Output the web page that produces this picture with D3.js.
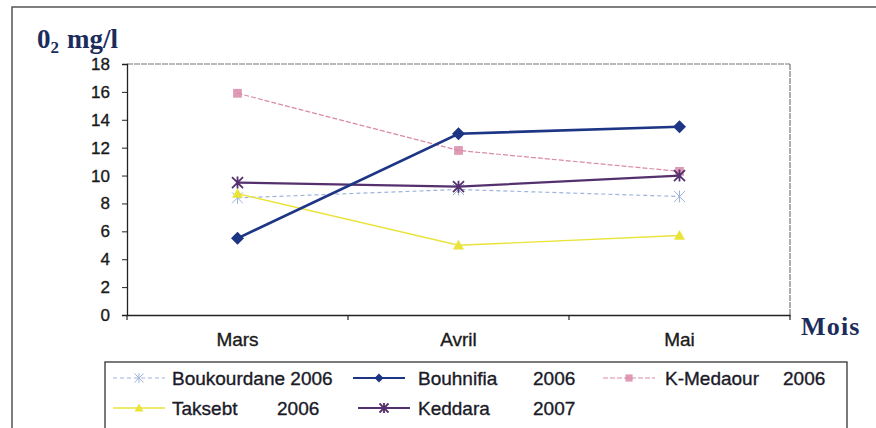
<!DOCTYPE html>
<html><head><meta charset="utf-8">
<script src="https://cdn.jsdelivr.net/npm/d3@7"></script>
<style>
html,body{margin:0;padding:0;background:#fff;}
svg{display:block;}
</style></head>
<body>
<svg id="chart" width="876" height="428"></svg>
<script>
const months = ["Mars", "Avril", "Mai"];
const seriesNames = ["Boukourdane", "Bouhnifia", "K-Medaour", "Taksebt", "Keddara"];
const seriesYears = ["2006", "2006", "2006", "2006", "2007"];
const boukourdane = [8.4, 9.0, 8.5];
const bouhnifia = [5.5, 13.0, 13.5];
const kMedaour = [15.9, 11.8, 10.3];
const taksebt = [8.7, 5.0, 5.7];
const keddara = [9.5, 9.2, 10.0];
const yTicks = [0, 2, 4, 6, 8, 10, 12, 14, 16, 18];
const yTitle = "0";
const xTitle = "Mois";

const seriesValues = [boukourdane, bouhnifia, kMedaour, taksebt, keddara];
const styles = [
  {color: "#9fb4dc", width: 1.2, dash: "4,3", marker: "star"},
  {color: "#1d3585", width: 2.6, dash: null, marker: "diamond"},
  {color: "#d98aa8", width: 1.2, dash: "5,2", marker: "square"},
  {color: "#e9e33a", width: 1.4, dash: null, marker: "triangle"},
  {color: "#55306f", width: 2.2, dash: null, marker: "asterisk"}
];

const svg = d3.select("#chart");
const m = {left: 127, right: 790, top: 64, bottom: 315};

// outer frame
svg.append("rect").attr("x", 12).attr("y", 7).attr("width", 900).attr("height", 440)
  .attr("fill", "none").attr("stroke", "#555").attr("stroke-width", 1.5);

const x = d3.scaleBand().domain(months).range([m.left, m.right]);
const y = d3.scaleLinear().domain([0, 18]).range([m.bottom, m.top]);

// plot border top & right
svg.append("line").attr("x1", m.left).attr("x2", m.right).attr("y1", m.top).attr("y2", m.top)
  .attr("stroke", "#777").attr("stroke-width", 1.2).attr("stroke-dasharray", "6,1");
svg.append("line").attr("x1", m.right).attr("x2", m.right).attr("y1", m.top).attr("y2", m.bottom)
  .attr("stroke", "#777").attr("stroke-width", 1.2).attr("stroke-dasharray", "6,1");

const textFont = "Liberation Sans, Arial, sans-serif";
const thicken = sel => sel.attr("stroke", "#1a1a1a").attr("stroke-width", 0.35);

// y axis
const yAxis = svg.append("g").attr("transform", `translate(${m.left},0)`)
  .call(d3.axisLeft(y).tickValues(yTicks).tickSize(5).tickPadding(12));
yAxis.select(".domain").attr("stroke", "#222").attr("stroke-width", 1.3);
yAxis.selectAll(".tick line").attr("stroke", "#222");
thicken(yAxis.selectAll(".tick text").attr("font-family", textFont)
  .attr("font-size", 17).attr("fill", "#1a1a1a"));

// x axis
const xAxis = svg.append("g").attr("transform", `translate(0,${m.bottom})`)
  .call(d3.axisBottom(x).tickSize(0).tickPadding(18));
xAxis.select(".domain").attr("stroke", "#222").attr("stroke-width", 1.3);
thicken(xAxis.selectAll(".tick text").attr("font-family", textFont)
  .attr("font-size", 19).attr("fill", "#1a1a1a"));
const edges = months.map(d => x(d)).concat([x(months[months.length - 1]) + x.bandwidth()]);
svg.append("g").selectAll("line").data(edges).join("line")
  .attr("x1", d => d).attr("x2", d => d).attr("y1", m.bottom).attr("y2", m.bottom + 5)
  .attr("stroke", "#222").attr("stroke-width", 1.2);

function drawMarker(g, type, color, size) {
  const s = size;
  if (type === "diamond") {
    g.append("path").attr("d", `M0,${-s}L${s},0L0,${s}L${-s},0Z`).attr("fill", color);
  } else if (type === "square") {
    g.append("rect").attr("x", -s * 0.8).attr("y", -s * 0.8).attr("width", s * 1.6).attr("height", s * 1.6)
      .attr("fill", color).attr("opacity", 0.85);
  } else if (type === "triangle") {
    g.append("path").attr("d", `M0,${-s}L${s},${s * 0.75}L${-s},${s * 0.75}Z`).attr("fill", color);
  } else if (type === "asterisk") {
    g.append("path").attr("d", `M${-s},${-s}L${s},${s}M${-s},${s}L${s},${-s}M0,${-s * 1.1}L0,${s * 1.1}`)
      .attr("stroke", color).attr("stroke-width", 1.8).attr("fill", "none");
  } else if (type === "star") {
    g.append("path").attr("d", `M${-s},${-s}L${s},${s}M${-s},${s}L${s},${-s}M0,${-s * 1.1}L0,${s * 1.1}`)
      .attr("stroke", color).attr("stroke-width", 1).attr("fill", "none");
  }
}

const line = d3.line().x((d, i) => x(months[i]) + x.bandwidth() / 2).y(d => y(d));
const order = [0, 2, 3, 4, 1];
order.forEach(si => {
  const st = styles[si];
  const vals = seriesValues[si];
  svg.append("path").datum(vals).attr("d", line).attr("fill", "none")
    .attr("stroke", st.color).attr("stroke-width", st.width)
    .attr("stroke-dasharray", st.dash);
  vals.forEach((v, i) => {
    const g = svg.append("g").attr("transform", `translate(${x(months[i]) + x.bandwidth() / 2},${y(v)})`);
    drawMarker(g, st.marker, st.color, si === 1 ? 6.5 : 5.5);
  });
});

// axis titles
const yt = svg.append("text").attr("x", 37).attr("y", 48)
  .attr("font-family", "Liberation Serif, Times New Roman, serif").attr("font-weight", "bold")
  .attr("font-size", 27).attr("fill", "#1c2d5c");
yt.append("tspan").text(yTitle);
yt.append("tspan").attr("font-size", 17).attr("dy", 5).text("2");
yt.append("tspan").attr("dy", -5).attr("dx", 8).text("mg/l");

svg.append("text").attr("x", 801).attr("y", 335).text(xTitle)
  .attr("font-family", "Liberation Serif, Times New Roman, serif").attr("font-weight", "bold")
  .attr("font-size", 26).attr("letter-spacing", 1.2).attr("fill", "#1c2d5c");

// legend
svg.append("rect").attr("x", 105).attr("y", 362).attr("width", 742).attr("height", 120)
  .attr("fill", "none").attr("stroke", "#333").attr("stroke-width", 1.3);
const legPos = [
  {sx: 113, tx: 172, yx: null, cy: 378},
  {sx: 353, tx: 418, yx: 533, cy: 378},
  {sx: 603, tx: 665, yx: 783, cy: 378},
  {sx: 113, tx: 172, yx: 277, cy: 408},
  {sx: 358, tx: 418, yx: 533, cy: 408}
];
seriesNames.forEach((name, si) => {
  const p = legPos[si], st = styles[si];
  const lg = svg.append("g");
  lg.append("line").attr("x1", p.sx).attr("x2", p.sx + 52).attr("y1", p.cy).attr("y2", p.cy)
    .attr("stroke", st.color).attr("stroke-width", Math.min(st.width, 2)).attr("stroke-dasharray", st.dash);
  drawMarker(lg.append("g").attr("transform", `translate(${p.sx + 26},${p.cy})`), st.marker, st.color, 4.5);
  const txtAttr = t => thicken(t.attr("font-family", textFont).attr("font-size", 19)
    .attr("fill", "#1a1a2e").attr("dominant-baseline", "central"));
  if (p.yx === null) {
    txtAttr(lg.append("text").attr("x", p.tx).attr("y", p.cy).text(name + " " + seriesYears[si]));
  } else {
    txtAttr(lg.append("text").attr("x", p.tx).attr("y", p.cy).text(name));
    txtAttr(lg.append("text").attr("x", p.yx).attr("y", p.cy).text(seriesYears[si]));
  }
});
</script>
</body></html>
